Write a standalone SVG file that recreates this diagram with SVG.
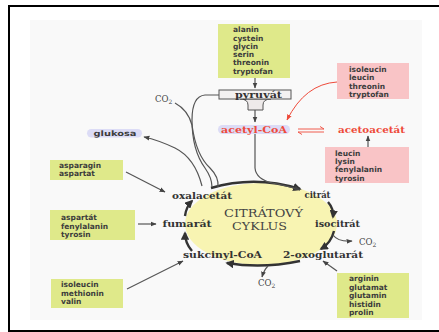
<svg xmlns="http://www.w3.org/2000/svg" width="439" height="332" viewBox="0 0 439 332">
<defs>
<style>
.lst{font-family:"DejaVu Sans","Liberation Sans",sans-serif;font-size:7.5px;font-weight:bold;fill:#3c3c3c}
.ser{font-family:"DejaVu Serif","Liberation Serif",serif;font-size:10px;font-weight:bold;fill:#333}
.big{font-family:"DejaVu Serif","Liberation Serif",serif;font-size:11.5px;fill:#444}
.red{font-family:"DejaVu Serif","Liberation Serif",serif;font-size:10px;font-weight:bold;fill:#ee4a3a}
.co2{font-family:"DejaVu Serif","Liberation Serif",serif;font-size:8.5px;fill:#444}
.grn{fill:#dfe98a}
.pnk{fill:#f9c4c6}
.lav{fill:#dcdcf6}
.ln{fill:none;stroke:#555;stroke-width:1.2}
.th{fill:none;stroke:#333;stroke-width:2.4}
</style>
<marker id="ah" viewBox="0 0 10 10" refX="9" refY="5" markerWidth="5" markerHeight="5" orient="auto"><path d="M0,1 L10,5 L0,9 z" fill="#444"/></marker>
<marker id="ahr" viewBox="0 0 10 10" refX="9" refY="5" markerWidth="6" markerHeight="6" orient="auto"><path d="M0,1 L10,5 L0,9 z" fill="#ee4a3a"/></marker>
<marker id="aht" viewBox="0 0 10 10" refX="8" refY="5" markerWidth="3.5" markerHeight="3.5" orient="auto"><path d="M0,0 L10,5 L0,10 z" fill="#333"/></marker>
</defs>
<rect width="439" height="332" fill="#fff"/>
<rect x="30" y="20" width="392" height="300" fill="#f9f9f9"/>
<rect x="9" y="6" width="436" height="325" fill="none" stroke="#000" stroke-width="2"/>

<g id="cycle">
<ellipse cx="261" cy="224" rx="76" ry="41" fill="#f8f4b2"/>
<text class="big" x="263.5" y="217" text-anchor="middle" textLength="79" lengthAdjust="spacingAndGlyphs">CITRÁTOVÝ</text>
<text class="big" x="259.5" y="229.5" text-anchor="middle" textLength="55" lengthAdjust="spacingAndGlyphs">CYKLUS</text>
</g>

<g id="connectors">
<path class="th" marker-end="url(#aht)" d="M211,188 Q255,175 300,189"/>
<path class="th" marker-end="url(#aht)" d="M328,202 Q334,209 333,217"/>
<path class="th" marker-end="url(#aht)" d="M334,231 Q331,243 321,249"/>
<path class="th" marker-end="url(#aht)" d="M300,261 Q262,269 227,263"/>
<path class="th" marker-end="url(#aht)" d="M192,251 Q185,243 185,233"/>
<path class="th" marker-end="url(#aht)" d="M185,216 Q186,207 192,201"/>
<path class="ln" marker-end="url(#ah)" d="M333,235 Q338,242 352,241"/>
<path class="ln" marker-end="url(#ah)" d="M268,266 Q264,270 262,277"/>
<path class="ln" marker-end="url(#ah)" d="M255,133 V168 Q256,179 272,183 Q288,186 300,190"/>
<path class="ln" marker-end="url(#ah)" d="M255,78 V88"/>
<path class="ln" marker-end="url(#ah)" d="M255,110 V122"/>
<path class="ln" d="M219,95 H205 Q192,96 192,120 Q192,150 205,168 Q212,178 212,187"/>
<path class="ln" d="M175,103 Q188,110 192,125 Q196,155 210,168 Q219,177 218,187"/>
<path class="ln" marker-end="url(#ah)" d="M202,186 Q195,158 175,148 Q158,140 144,137"/>
<path class="ln" marker-end="url(#ah)" d="M126,172 L165,192"/>
<path class="ln" marker-end="url(#ah)" d="M138,224 L156,224"/>
<path class="ln" marker-end="url(#ah)" d="M127,289 L183,261"/>
<path class="ln" marker-end="url(#ah)" d="M337,271 L323,261"/>
<path class="ln" marker-end="url(#ah)" d="M368,147 V136"/>
<path fill="none" stroke="#ee4a3a" stroke-width="1" marker-end="url(#ahr)" d="M337,82 Q305,84 287,120"/>
<path fill="none" stroke="#ee4a3a" stroke-width="0.9" d="M298,129 H324 M320,126.5 L324,129 M298,132 H324 M298,132 L302,134.5"/>
</g>

<g id="box-top">
<rect class="grn" x="218" y="24" width="72" height="54"/>
<text class="lst" x="233" y="32">alanin</text>
<text class="lst" x="233" y="40.5">cystein</text>
<text class="lst" x="233" y="49">glycin</text>
<text class="lst" x="233" y="57">serin</text>
<text class="lst" x="233" y="65">threonin</text>
<text class="lst" x="233" y="73.5">tryptofan</text>
</g>

<g id="pyruvat">
<path d="M240,99 Q248,99 248,105 V110 H263 V105 Q263,99 271,99 Z" fill="#eeeaea" stroke="#555" stroke-width="1"/>
<rect x="219" y="90" width="72" height="9" fill="#f3f1f1" stroke="#555" stroke-width="1"/>
<text class="ser" x="258.5" y="98" text-anchor="middle" textLength="47" lengthAdjust="spacingAndGlyphs">pyruvát</text>
</g>

<g id="acetylcoa">
<rect class="lav" x="218" y="125" width="72" height="9" rx="4.5"/>
<text class="red" x="254" y="133" text-anchor="middle" textLength="66" lengthAdjust="spacingAndGlyphs">acetyl-CoA</text>
</g>

<g id="acetoacetat">
<text class="red" x="371.5" y="133" text-anchor="middle" textLength="67" lengthAdjust="spacingAndGlyphs">acetoacetát</text>
</g>

<g id="box-pink-top">
<rect class="pnk" x="337" y="63" width="72" height="36"/>
<text class="lst" x="349" y="71.5">isoleucin</text>
<text class="lst" x="349" y="80">leucin</text>
<text class="lst" x="349" y="88.5">threonin</text>
<text class="lst" x="349" y="96.5">tryptofan</text>
</g>

<g id="box-pink-bottom">
<rect class="pnk" x="325" y="147" width="84" height="36"/>
<text class="lst" x="335" y="155.5">leucin</text>
<text class="lst" x="335" y="164">lysin</text>
<text class="lst" x="335" y="172">fenylalanin</text>
<text class="lst" x="335" y="180.5">tyrosin</text>
</g>

<g id="glukosa">
<rect class="lav" x="87" y="129" width="55" height="8.5" rx="4.2"/>
<text class="lst" x="115" y="136" text-anchor="middle" textLength="43" lengthAdjust="spacingAndGlyphs">glukosa</text>
</g>

<g id="co2-labels">
<text class="co2" x="155" y="102">CO<tspan font-size="6" dy="2">2</tspan></text>
<text class="co2" x="359" y="245">CO<tspan font-size="6" dy="2">2</tspan></text>
<text class="co2" x="258" y="286">CO<tspan font-size="6" dy="2">2</tspan></text>
</g>

<g id="labels">
<text class="ser" x="202" y="199" text-anchor="middle" textLength="60" lengthAdjust="spacingAndGlyphs">oxalacetát</text>
<text class="ser" x="317.5" y="198" text-anchor="middle" textLength="26" lengthAdjust="spacingAndGlyphs">citrát</text>
<text class="ser" x="187" y="227" text-anchor="middle" textLength="49" lengthAdjust="spacingAndGlyphs">fumarát</text>
<text class="ser" x="337.5" y="227" text-anchor="middle" textLength="45" lengthAdjust="spacingAndGlyphs">isocitrát</text>
<text class="ser" x="222.5" y="258" text-anchor="middle" textLength="79" lengthAdjust="spacingAndGlyphs">sukcinyl-CoA</text>
<text class="ser" x="323" y="258" text-anchor="middle" textLength="80" lengthAdjust="spacingAndGlyphs">2-oxoglutarát</text>
</g>

<g id="box-asparagin">
<rect class="grn" x="50" y="160" width="73" height="20"/>
<text class="lst" x="59" y="168">asparagin</text>
<text class="lst" x="59" y="176">aspartat</text>
</g>

<g id="box-aspartat">
<rect class="grn" x="50" y="210" width="85" height="30"/>
<text class="lst" x="61" y="220">aspartát</text>
<text class="lst" x="61" y="228.5">fenylalanin</text>
<text class="lst" x="61" y="237">tyrosin</text>
</g>

<g id="box-isoleucin">
<rect class="grn" x="51" y="279" width="72" height="29"/>
<text class="lst" x="61" y="287">isoleucin</text>
<text class="lst" x="61" y="295.5">methionin</text>
<text class="lst" x="61" y="304">valin</text>
</g>

<g id="box-arginin">
<rect class="grn" x="337" y="273" width="72" height="45"/>
<text class="lst" x="349" y="281">arginin</text>
<text class="lst" x="349" y="289.5">glutamat</text>
<text class="lst" x="349" y="298">glutamin</text>
<text class="lst" x="349" y="306.5">histidin</text>
<text class="lst" x="349" y="315">prolin</text>
</g>
</svg>
